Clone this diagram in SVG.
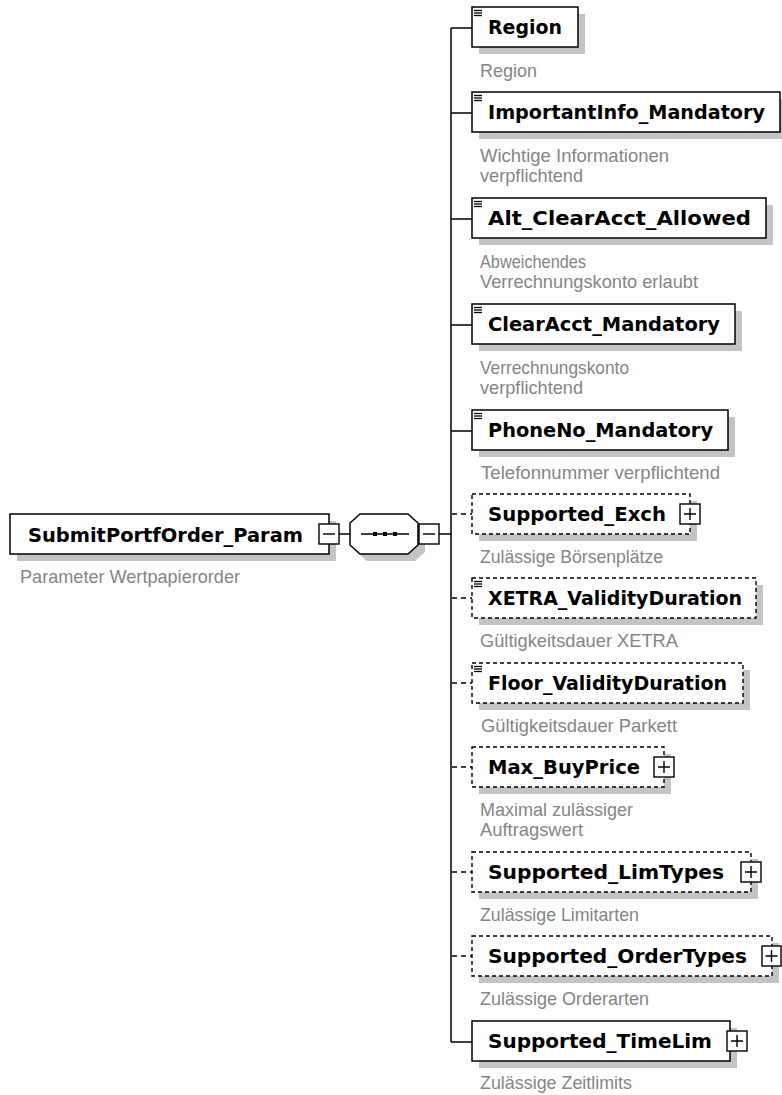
<svg xmlns="http://www.w3.org/2000/svg" width="782" height="1095" viewBox="0 0 782 1095">
  <style>
    .bg { fill: #ffffff; }
    .shadow { fill: #c4c4c4; }
    .box { fill: #ffffff; stroke: #000000; stroke-width: 1.5; }
    .opt { fill: #ffffff; stroke: #000000; stroke-width: 1.4; stroke-dasharray: 4 3; }
    .btn { fill: #ffffff; stroke: #000000; stroke-width: 1.4; }
    .mark { stroke: #000000; stroke-width: 1.4; fill: none; }
    .icon { stroke: #000000; stroke-width: 1.3; }
    .wire { stroke: #000000; stroke-width: 1.5; fill: none; }
    .wire-opt { stroke: #000000; stroke-width: 1.5; fill: none; stroke-dasharray: 5 4; }
    .name { font-family: "DejaVu Sans", "Liberation Sans", sans-serif; font-weight: bold; font-size: 20px; fill: #000000; }
    .desc { font-family: "Liberation Sans", "DejaVu Sans", sans-serif; font-size: 19px; fill: #858585; }
  </style>

  <rect class="bg" x="0" y="0" width="782" height="1095"/>

  <!-- connectors -->
  <g id="connectors">
    <line class="wire" x1="339" y1="534" x2="350" y2="534"/>
    <line class="wire" x1="439" y1="534" x2="451" y2="534"/>
    <line class="wire" x1="451" y1="28" x2="451" y2="1042"/>
    <line class="wire" x1="451" y1="28" x2="472" y2="28"/>
    <line class="wire" x1="451" y1="113" x2="472" y2="113"/>
    <line class="wire" x1="451" y1="219" x2="472" y2="219"/>
    <line class="wire" x1="451" y1="325" x2="472" y2="325"/>
    <line class="wire" x1="451" y1="431" x2="472" y2="431"/>
    <line class="wire-opt" x1="452" y1="514" x2="472" y2="514"/>
    <line class="wire-opt" x1="452" y1="598" x2="472" y2="598"/>
    <line class="wire-opt" x1="452" y1="683" x2="472" y2="683"/>
    <line class="wire-opt" x1="452" y1="767" x2="472" y2="767"/>
    <line class="wire-opt" x1="452" y1="872" x2="472" y2="872"/>
    <line class="wire-opt" x1="452" y1="956" x2="472" y2="956"/>
    <line class="wire" x1="451" y1="1042" x2="472" y2="1042"/>
  </g>

  <!-- root element -->
  <g id="node-root">
    <rect class="shadow" x="17" y="521" width="319" height="40"/>
    <rect class="box" x="10" y="514" width="319" height="40"/>
    <text class="name" x="28" y="542" textLength="275" lengthAdjust="spacingAndGlyphs">SubmitPortfOrder_Param</text>
    <rect class="btn" x="319" y="524" width="20" height="20"/>
    <line class="mark" x1="323" y1="534" x2="335" y2="534"/>
    <text class="desc" x="20" y="583" textLength="220" lengthAdjust="spacingAndGlyphs">Parameter Wertpapierorder</text>
  </g>

  <!-- sequence compositor -->
  <g id="node-sequence">
    <polygon class="shadow" points="367,521 415,521 425,530 425,552 415,561 367,561 357,552 357,530"/>
    <polygon class="box" points="360,514 408,514 418,523 418,545 408,554 360,554 350,545 350,523"/>
    <line class="mark" x1="361" y1="534" x2="409" y2="534"/>
    <rect x="373" y="532" width="4" height="4" fill="#000000"/>
    <rect x="383" y="532" width="4" height="4" fill="#000000"/>
    <rect x="393" y="532" width="4" height="4" fill="#000000"/>
    <rect class="btn" x="419" y="524" width="20" height="20"/>
    <line class="mark" x1="423" y1="534" x2="435" y2="534"/>
  </g>

  <!-- child elements -->
  <g id="node-region">
    <rect class="shadow" x="479" y="14" width="106" height="40"/>
    <rect class="box" x="472" y="7" width="106" height="40"/>
    <g class="icon"><line x1="474" y1="10.5" x2="482" y2="10.5"/><line x1="474" y1="13" x2="482" y2="13"/><line x1="474" y1="15.5" x2="482" y2="15.5"/></g>
    <text class="name" x="488" y="34" textLength="74" lengthAdjust="spacingAndGlyphs">Region</text>
    <text class="desc" x="480" y="77" textLength="57" lengthAdjust="spacingAndGlyphs">Region</text>
  </g>

  <g id="node-importantinfo">
    <rect class="shadow" x="479" y="99" width="308" height="40"/>
    <rect class="box" x="472" y="92" width="308" height="40"/>
    <g class="icon"><line x1="474" y1="95.5" x2="482" y2="95.5"/><line x1="474" y1="98" x2="482" y2="98"/><line x1="474" y1="100.5" x2="482" y2="100.5"/></g>
    <text class="name" x="488" y="119" textLength="277" lengthAdjust="spacingAndGlyphs">ImportantInfo_Mandatory</text>
    <text class="desc" x="480" y="162" textLength="189" lengthAdjust="spacingAndGlyphs">Wichtige Informationen</text>
    <text class="desc" x="480" y="182" textLength="103" lengthAdjust="spacingAndGlyphs">verpflichtend</text>
  </g>

  <g id="node-altclearacct">
    <rect class="shadow" x="479" y="205" width="294" height="40"/>
    <rect class="box" x="472" y="198" width="294" height="40"/>
    <g class="icon"><line x1="474" y1="201.5" x2="482" y2="201.5"/><line x1="474" y1="204" x2="482" y2="204"/><line x1="474" y1="206.5" x2="482" y2="206.5"/></g>
    <text class="name" x="488" y="225" textLength="263" lengthAdjust="spacingAndGlyphs">Alt_ClearAcct_Allowed</text>
    <text class="desc" x="480" y="268" textLength="106" lengthAdjust="spacingAndGlyphs">Abweichendes</text>
    <text class="desc" x="480" y="288" textLength="218" lengthAdjust="spacingAndGlyphs">Verrechnungskonto erlaubt</text>
  </g>

  <g id="node-clearacct">
    <rect class="shadow" x="479" y="311" width="263" height="40"/>
    <rect class="box" x="472" y="304" width="263" height="40"/>
    <g class="icon"><line x1="474" y1="307.5" x2="482" y2="307.5"/><line x1="474" y1="310" x2="482" y2="310"/><line x1="474" y1="312.5" x2="482" y2="312.5"/></g>
    <text class="name" x="488" y="331" textLength="232" lengthAdjust="spacingAndGlyphs">ClearAcct_Mandatory</text>
    <text class="desc" x="480" y="374" textLength="149" lengthAdjust="spacingAndGlyphs">Verrechnungskonto</text>
    <text class="desc" x="480" y="394" textLength="103" lengthAdjust="spacingAndGlyphs">verpflichtend</text>
  </g>

  <g id="node-phoneno">
    <rect class="shadow" x="479" y="417" width="256" height="40"/>
    <rect class="box" x="472" y="410" width="256" height="40"/>
    <g class="icon"><line x1="474" y1="413.5" x2="482" y2="413.5"/><line x1="474" y1="416" x2="482" y2="416"/><line x1="474" y1="418.5" x2="482" y2="418.5"/></g>
    <text class="name" x="488" y="437" textLength="225" lengthAdjust="spacingAndGlyphs">PhoneNo_Mandatory</text>
    <text class="desc" x="481" y="479" textLength="239" lengthAdjust="spacingAndGlyphs">Telefonnummer verpflichtend</text>
  </g>

  <g id="node-supportedexch">
    <rect class="shadow" x="479" y="501" width="218" height="40"/>
    <rect class="opt" x="472" y="494" width="218" height="40"/>
    <text class="name" x="488" y="521" textLength="178" lengthAdjust="spacingAndGlyphs">Supported_Exch</text>
    <rect class="btn" x="680" y="504" width="20" height="20"/>
    <path class="mark" d="M684 514 H696 M690 508 V520"/>
    <text class="desc" x="480" y="563" textLength="183" lengthAdjust="spacingAndGlyphs">Zulässige Börsenplätze</text>
  </g>

  <g id="node-xetra">
    <rect class="shadow" x="479" y="585" width="284" height="40"/>
    <rect class="opt" x="472" y="578" width="284" height="40"/>
    <g class="icon"><line x1="474" y1="581.5" x2="482" y2="581.5"/><line x1="474" y1="584" x2="482" y2="584"/><line x1="474" y1="586.5" x2="482" y2="586.5"/></g>
    <text class="name" x="488" y="605" textLength="254" lengthAdjust="spacingAndGlyphs">XETRA_ValidityDuration</text>
    <text class="desc" x="480" y="647" textLength="198" lengthAdjust="spacingAndGlyphs">Gültigkeitsdauer XETRA</text>
  </g>

  <g id="node-floor">
    <rect class="shadow" x="479" y="670" width="271" height="40"/>
    <rect class="opt" x="472" y="663" width="271" height="40"/>
    <g class="icon"><line x1="474" y1="666.5" x2="482" y2="666.5"/><line x1="474" y1="669" x2="482" y2="669"/><line x1="474" y1="671.5" x2="482" y2="671.5"/></g>
    <text class="name" x="488" y="690" textLength="239" lengthAdjust="spacingAndGlyphs">Floor_ValidityDuration</text>
    <text class="desc" x="481" y="732" textLength="196" lengthAdjust="spacingAndGlyphs">Gültigkeitsdauer Parkett</text>
  </g>

  <g id="node-maxbuyprice">
    <rect class="shadow" x="479" y="754" width="192" height="40"/>
    <rect class="opt" x="472" y="747" width="192" height="40"/>
    <text class="name" x="488" y="774" textLength="152" lengthAdjust="spacingAndGlyphs">Max_BuyPrice</text>
    <rect class="btn" x="654" y="757" width="20" height="20"/>
    <path class="mark" d="M658 767 H670 M664 761 V773"/>
    <text class="desc" x="480" y="816" textLength="153" lengthAdjust="spacingAndGlyphs">Maximal zulässiger</text>
    <text class="desc" x="480" y="836" textLength="103" lengthAdjust="spacingAndGlyphs">Auftragswert</text>
  </g>

  <g id="node-limtypes">
    <rect class="shadow" x="479" y="859" width="279" height="40"/>
    <rect class="opt" x="472" y="852" width="279" height="40"/>
    <text class="name" x="488" y="879" textLength="236" lengthAdjust="spacingAndGlyphs">Supported_LimTypes</text>
    <rect class="btn" x="741" y="862" width="20" height="20"/>
    <path class="mark" d="M745 872 H757 M751 866 V878"/>
    <text class="desc" x="480" y="921" textLength="159" lengthAdjust="spacingAndGlyphs">Zulässige Limitarten</text>
  </g>

  <g id="node-ordertypes">
    <rect class="shadow" x="479" y="943" width="300" height="40"/>
    <rect class="opt" x="472" y="936" width="300" height="40"/>
    <text class="name" x="488" y="963" textLength="259" lengthAdjust="spacingAndGlyphs">Supported_OrderTypes</text>
    <rect class="btn" x="762" y="946" width="19" height="20"/>
    <path class="mark" d="M765.5 956 H777.5 M771.5 950 V962"/>
    <text class="desc" x="480" y="1005" textLength="169" lengthAdjust="spacingAndGlyphs">Zulässige Orderarten</text>
  </g>

  <g id="node-timelim">
    <rect class="shadow" x="479" y="1028" width="258" height="40"/>
    <rect class="box" x="472" y="1021" width="258" height="40"/>
    <text class="name" x="488" y="1048" textLength="224" lengthAdjust="spacingAndGlyphs">Supported_TimeLim</text>
    <rect class="btn" x="727" y="1031" width="20" height="20"/>
    <path class="mark" d="M731 1041 H743 M737 1035 V1047"/>
    <text class="desc" x="480" y="1089" textLength="152" lengthAdjust="spacingAndGlyphs">Zulässige Zeitlimits</text>
  </g>
</svg>
